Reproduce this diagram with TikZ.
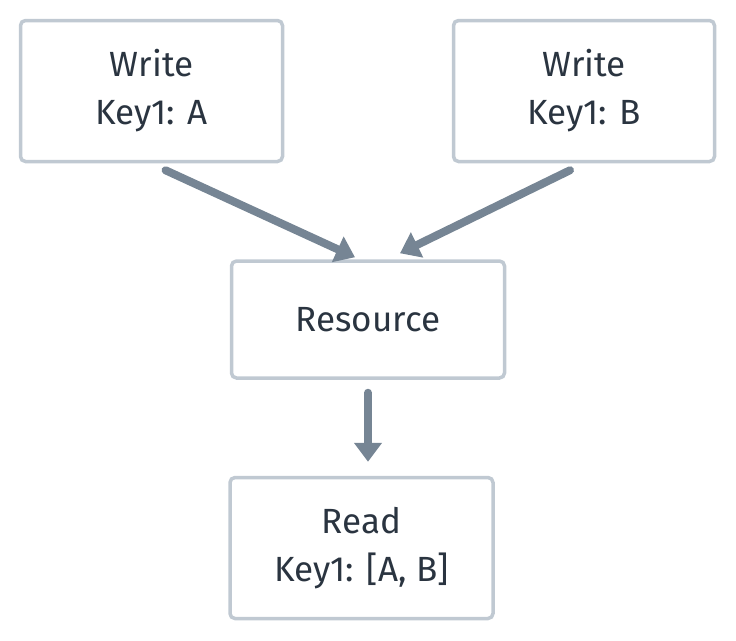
\documentclass[tikz,border=0pt]{standalone}
\usepackage{fontspec}
\setmainfont{Fira Sans}
\usetikzlibrary{arrows.meta}
\definecolor{boxline}{HTML}{C0C9D2}
\definecolor{arrowcol}{HTML}{768594}
\definecolor{txtcol}{HTML}{2A3440}
\begin{document}
\begin{tikzpicture}[x=1pt,y=-1pt,
    box/.style={draw=boxline,line width=3.5pt,rounded corners=5pt,align=center,text=txtcol,
        font=\fontsize{35}{48}\selectfont,inner sep=0pt},
    flow/.style={draw=arrowcol,line width=8pt,line cap=round,-{Triangle[length=19pt,width=27pt]}}]
\useasboundingbox (0,0) rectangle (736,640);
\node[box,minimum width=262pt,minimum height=141pt] (wa) at (151.5,91) {Write\\Key1: A};
\node[box,minimum width=261pt,minimum height=141pt] (wb) at (584,91) {Write\\Key1: B};
\node[box,minimum width=273pt,minimum height=117pt] (res) at (368,319.5) {Resource};
\node[box,minimum width=263pt,minimum height=141pt] (rd) at (361.5,548) {Read\\Key1: [A, B]};
% arrows
\draw[flow] ([xshift=14pt,yshift=-7pt]wa.south) -- ([xshift=-13pt,yshift=2pt]res.north);
\draw[flow] ([xshift=-14pt,yshift=-7pt]wb.south) -- ([xshift=32pt,yshift=6pt]res.north);
\draw[flow] ([yshift=-13pt]res.south) -- ([xshift=6.5pt,yshift=14pt]rd.north);
\end{tikzpicture}
\end{document}
